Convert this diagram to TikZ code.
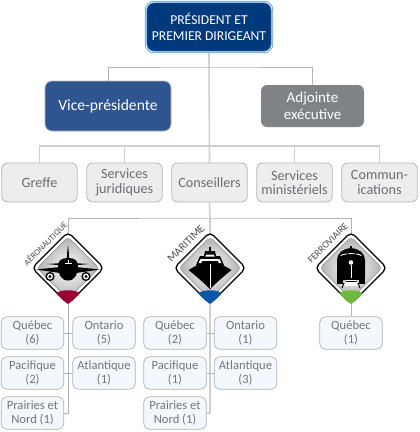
\documentclass[tikz,border=0pt]{standalone}
\usepackage{fontspec}
\setmainfont{Carlito}
\usetikzlibrary{backgrounds}
\definecolor{navy}{HTML}{003A7D}
\definecolor{ringblue}{HTML}{4F94CF}
\definecolor{vpblue}{HTML}{2F5590}
\definecolor{adjgray}{HTML}{808285}
\definecolor{rowfill}{HTML}{EDEDEE}
\definecolor{rowline}{HTML}{B4B6B8}
\definecolor{rowtext}{HTML}{6D6E71}
\definecolor{smallfill}{HTML}{F4F8FC}
\definecolor{smallline}{HTML}{ABB1B6}
\definecolor{smalltext}{HTML}{73777B}
\definecolor{linegray}{HTML}{B3B3B3}
\definecolor{trunkgray}{HTML}{CFCFCF}
\definecolor{capred}{HTML}{990033}
\definecolor{capblue}{HTML}{0B57A8}
\definecolor{capgreen}{HTML}{6CBB3C}
\tikzset{
  boxbase/.style={align=center,inner sep=0pt,text badly centered},
  pres/.style={boxbase,fill=navy,draw=ringblue,double=white,double distance=.7pt,line width=.8pt,rounded corners=8pt,minimum width=126pt,minimum height=50pt,text=white,font=\fontsize{13.6}{15.5}\selectfont},
  vpbox/.style={boxbase,fill=vpblue,draw=rowline,line width=.6pt,rounded corners=7pt,minimum width=126pt,minimum height=50pt,text=white,font=\fontsize{15.6}{17}\selectfont},
  adjbox/.style={boxbase,fill=adjgray,rounded corners=6pt,minimum width=103pt,minimum height=42pt,text=white,font=\fontsize{15}{16.5}\selectfont},
  rowbox/.style={boxbase,fill=rowfill,draw=rowline,line width=.8pt,rounded corners=6pt,minimum width=75.5pt,minimum height=39pt,text=rowtext,font=\fontsize{14.2}{14.5}\selectfont},
  smallbox/.style={boxbase,fill=smallfill,draw=smallline,line width=.7pt,rounded corners=5.5pt,minimum width=62.5pt,minimum height=32.5pt,text=smalltext,font=\fontsize{12.6}{14.5}\selectfont,execute at begin node={\rule{0pt}{11.5pt}}},
  thin line/.style={draw=linegray,line width=.9pt},
  trunk/.style={draw=trunkgray,line width=1.6pt},
  sector label/.style={inner sep=0pt,text=black!70,rotate=45},
}
% #1 centre, #2 cap colour
\newcommand{\sign}[2]{%
  \begin{scope}[shift={#1}]
    \fill[white,rounded corners=5pt] (0,-36) -- (36,0) -- (0,36) -- (-36,0) -- cycle;
    \begin{scope}
      \clip[rounded corners=3.5pt] (0,-31) -- (31,0) -- (0,31) -- (-31,0) -- cycle;
      \shade[inner color=white,outer color=black!32] (-32,-32) rectangle (32,32);
    \end{scope}
    \draw[black!45,line width=.4pt,rounded corners=3.5pt] (0,-31) -- (31,0) -- (0,31) -- (-31,0) -- cycle;
    \draw[black,line width=1.3pt,rounded corners=5pt] (0,-36) -- (36,0) -- (0,36) -- (-36,0) -- cycle;
    \fill[#2,rounded corners=1.2pt] (-12,25.5) .. controls (-7,21.5) and (7,21.5) .. (12,25.5) -- (0,36.4) -- cycle;
  \end{scope}}
\begin{document}
\begin{tikzpicture}[x=1pt,y=-1pt]
\useasboundingbox (0,0) rectangle (420,432);
\node[pres] (p) at (209,27) {PRÉSIDENT ET\\PREMIER DIRIGEANT};
\node[vpbox] (vp) at (108,106) {Vice-présidente};
\node[adjbox] (adj) at (312.5,106) {Adjointe\\exécutive};
\node[rowbox] (gr) at (39.5,182.5) {Greffe};
\node[rowbox] (sj) at (124.5,182.5) {Services\\juridiques};
\node[rowbox] (co) at (209.5,182.5) {Conseillers};
\node[rowbox] (sm) at (294.5,182.5) {Services\\ministériels};
\node[rowbox] (cm) at (379.5,182.5) {Commun-\\ications};

\coordinate (ja) at (68,218);
\coordinate (jm) at (210,218);
\coordinate (jf) at (351,218);
\coordinate (s1) at (68,268);
\coordinate (s2) at (210,268);
\coordinate (s3) at (351,268);
\coordinate (h1) at (210,67);
\coordinate (h2) at (210,146);

\sign{(s1)}{capred}
\sign{(s2)}{capblue}
\sign{(s3)}{capgreen}

% airplane
\begin{scope}[shift={(s1)}]
  \fill (0,-23) .. controls (1,-16) and (1,-10) .. (1.5,-6) -- (-1.5,-6) .. controls (-1,-10) and (-1,-16) .. (0,-23) -- cycle;
  \fill (-21,-4) -- (-5,-5) -- (5,-5) -- (21,-4) -- (5,-2.5) -- (-5,-2.5) -- cycle;
  \fill (-32,1.5) -- (-8,-1) -- (8,-1) -- (32,1.5) -- (8,5) -- (-8,5) -- cycle;
  \fill (-10,-2) .. controls (-10,-8) and (-6,-10) .. (0,-10) .. controls (6,-10) and (10,-8) .. (10,-2) .. controls (10,6) and (7,12.5) .. (0,12.5) .. controls (-7,12.5) and (-10,6) .. (-10,-2) -- cycle;
  \fill[white] (-3.5,-5.2) rectangle (3.5,-3.6);
  \fill[white] (-.3,-8) rectangle (.3,-3.6);
  \foreach \s in {-1,1} {
    \fill (\s*18,8.5) circle (4.6);
    \fill[white] (\s*18,8.5) circle (3);
    \fill (\s*18,8.5) circle (1.6);
  }
\end{scope}
% ship
\begin{scope}[shift={(s2)}]
  \fill (-1,-21) -- (1,-21) -- (1,-17) -- (-1,-17) -- cycle;
  \fill (-5,-17) -- (5,-17) -- (6,-12) -- (10,-12) -- (14,-3) -- (-14,-3) -- (-10,-12) -- (-6,-12) -- cycle;
  \fill[white] (-4,-13.5) -- (4,-13.5) -- (4.6,-11.5) -- (-4.6,-11.5) -- cycle;
  \fill[white] (-9.5,-9) -- (9.5,-9) -- (11.5,-5) -- (9,-5) -- (7.5,-7.2) -- (-7.5,-7.2) -- (-9,-5) -- (-11.5,-5) -- cycle;
  \fill (-21.5,2) -- (-11,-4) -- (11,-4) -- (21.5,2) .. controls (14,8) and (6,15) .. (0,21) .. controls (-6,15) and (-14,8) .. (-21.5,2) -- cycle;
  \draw[white,line width=.4pt] (0,-4) -- (0,20);
\end{scope}
% train
\begin{scope}[shift={(s3)}]
  \fill (-1.2,-22) -- (1.2,-22) -- (1.2,-20) -- (-1.2,-20) -- cycle;
  \fill (-14,-8) .. controls (-13,-16) and (-8,-19) .. (0,-20) .. controls (8,-19) and (13,-16) .. (14,-8) -- (14,9) .. controls (14,11) and (12,12) .. (10,12) -- (-10,12) .. controls (-12,12) and (-14,11) .. (-14,9) -- cycle;
  \draw[white,line width=.9pt] (-10.5,-12.5) .. controls (-5,-15) and (5,-15) .. (10.5,-12.5);
  \draw[black,line width=.5pt] (-4,-16) -- (-4,-11) (4,-16) -- (4,-11);
  \fill[white] (0,-5.5) circle (2.3);
  \draw[white,line width=.5pt] (0,-3) -- (0,10);
  \fill (-14,9) rectangle (-8,16);
  \fill (8,9) rectangle (14,16);
  \fill[white] (-5,12) -- (5,12) -- (6.5,18) -- (-6.5,18) -- cycle;
  \draw[black,line width=.9pt] (-5.5,13.5) -- (5.5,13.5) (-7,15) -- (-9,20) (7,15) -- (9,20);
\end{scope}

\node[sector label,font=\fontsize{8.6}{9}\selectfont] (lab1) at (45.5,244) {AÉRONAUTIQUE};
\node[sector label,font=\fontsize{11}{11}\selectfont] (lab2) at (186,243.5) {MARITIME};
\node[sector label,font=\fontsize{9.8}{10}\selectfont] (lab3) at (328,243) {FERROVIAIRE};

\node[smallbox] (a1) at (32.5,333) {Québec\\(6)};
\node[smallbox] (a2) at (104,333) {Ontario\\(5)};
\node[smallbox] (a3) at (32.5,373) {Pacifique\\(2)};
\node[smallbox] (a4) at (104,373) {Atlantique\\(1)};
\node[smallbox] (a5) at (32.5,413) {Prairies et\\Nord (1)};
\node[smallbox] (m1) at (175,333) {Québec\\(2)};
\node[smallbox] (m2) at (245.5,333) {Ontario\\(1)};
\node[smallbox] (m3) at (175,373) {Pacifique\\(1)};
\node[smallbox] (m4) at (245.5,373) {Atlantique\\(3)};
\node[smallbox] (m5) at (175,413) {Prairies et\\Nord (1)};
\node[smallbox] (f1) at (351,333) {Québec\\(1)};

\begin{pgfonlayer}{background}
  \draw[trunk] (p.south) -- (co.north);
  \draw[trunk] (co.south) -- (jm);
  \draw[thin line] (vp.north) |- (h1) -| (adj.north);
  \draw[trunk] (gr.north) |- (h2) -| (cm.north);
  \draw[trunk] (sj.north) -- (sj.north |- h2);
  \draw[trunk] (sm.north) -- (sm.north |- h2);
  \draw[thin line] (s1) |- (jm) -| (s3);
  \draw[thin line] (s1) -- (a5.east -| s1) -- (a5.east);
  \draw[thin line] (a1.east) -- (a2.west);
  \draw[thin line] (a3.east) -- (a4.west);
  \draw[trunk] (jm) -- (m5.east -| jm) -- (m5.east);
  \draw[thin line] (m1.east) -- (m2.west);
  \draw[thin line] (m3.east) -- (m4.west);
  \draw[thin line] (s3) -- (f1.north);
\end{pgfonlayer}
\end{tikzpicture}
\end{document}
